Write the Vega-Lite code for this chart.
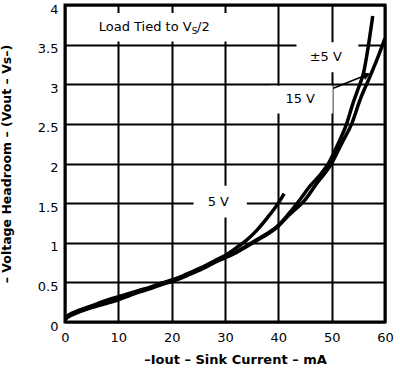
{
  "$schema": "https://vega.github.io/schema/vega-lite/v6.json",
  "width": 320,
  "height": 317,
  "autosize": "none",
  "padding": {"left": 65, "top": 5, "right": 15, "bottom": 49},
  "config": {
    "view": {"stroke": "black", "strokeWidth": 3},
    "font": "DejaVu Sans",
    "axis": {
      "grid": true, "gridColor": "black", "gridWidth": 2, "gridOpacity": 1,
      "ticks": false, "domain": false, "labelFlush": false, "labelOverlap": false,
      "labelFont": "DejaVu Sans", "labelFontSize": 13, "labelColor": "black",
      "titleFont": "DejaVu Sans", "titleFontWeight": "bold", "titleColor": "black"
    }
  },
  "datasets": {
    "curves": [
      {"series": "5 V", "x": 0, "y": 0.05}, {"series": "5 V", "x": 0.5, "y": 0.08}, {"series": "5 V", "x": 1, "y": 0.1}, {"series": "5 V", "x": 2, "y": 0.13},
      {"series": "5 V", "x": 4, "y": 0.18}, {"series": "5 V", "x": 6, "y": 0.23}, {"series": "5 V", "x": 8, "y": 0.28}, {"series": "5 V", "x": 10, "y": 0.32},
      {"series": "5 V", "x": 12, "y": 0.36}, {"series": "5 V", "x": 14, "y": 0.4}, {"series": "5 V", "x": 16, "y": 0.44}, {"series": "5 V", "x": 18, "y": 0.49},
      {"series": "5 V", "x": 20, "y": 0.53}, {"series": "5 V", "x": 22, "y": 0.58}, {"series": "5 V", "x": 24, "y": 0.64}, {"series": "5 V", "x": 26, "y": 0.7},
      {"series": "5 V", "x": 28, "y": 0.77}, {"series": "5 V", "x": 30, "y": 0.84}, {"series": "5 V", "x": 32, "y": 0.93}, {"series": "5 V", "x": 34, "y": 1.03},
      {"series": "5 V", "x": 36, "y": 1.16}, {"series": "5 V", "x": 38, "y": 1.32}, {"series": "5 V", "x": 40, "y": 1.5}, {"series": "5 V", "x": 41.1, "y": 1.62},

      {"series": "±5 V", "x": 0, "y": 0.04}, {"series": "±5 V", "x": 0.5, "y": 0.07}, {"series": "±5 V", "x": 1, "y": 0.09}, {"series": "±5 V", "x": 2, "y": 0.12},
      {"series": "±5 V", "x": 4, "y": 0.17}, {"series": "±5 V", "x": 6, "y": 0.21}, {"series": "±5 V", "x": 8, "y": 0.26}, {"series": "±5 V", "x": 10, "y": 0.3},
      {"series": "±5 V", "x": 12, "y": 0.34}, {"series": "±5 V", "x": 14, "y": 0.39}, {"series": "±5 V", "x": 16, "y": 0.43}, {"series": "±5 V", "x": 18, "y": 0.48},
      {"series": "±5 V", "x": 20, "y": 0.52}, {"series": "±5 V", "x": 22, "y": 0.57}, {"series": "±5 V", "x": 24, "y": 0.63}, {"series": "±5 V", "x": 26, "y": 0.69},
      {"series": "±5 V", "x": 28, "y": 0.76}, {"series": "±5 V", "x": 30, "y": 0.82}, {"series": "±5 V", "x": 32, "y": 0.88}, {"series": "±5 V", "x": 34, "y": 0.96},
      {"series": "±5 V", "x": 36, "y": 1.04}, {"series": "±5 V", "x": 38, "y": 1.12}, {"series": "±5 V", "x": 40, "y": 1.22}, {"series": "±5 V", "x": 42, "y": 1.37},
      {"series": "±5 V", "x": 44, "y": 1.54}, {"series": "±5 V", "x": 46, "y": 1.72}, {"series": "±5 V", "x": 48, "y": 1.87}, {"series": "±5 V", "x": 49.4, "y": 2.0},
      {"series": "±5 V", "x": 51, "y": 2.22}, {"series": "±5 V", "x": 52.8, "y": 2.5}, {"series": "±5 V", "x": 54, "y": 2.76}, {"series": "±5 V", "x": 55, "y": 2.95},
      {"series": "±5 V", "x": 56, "y": 3.15}, {"series": "±5 V", "x": 56.8, "y": 3.45}, {"series": "±5 V", "x": 57.7, "y": 3.86},

      {"series": "15 V", "x": 0, "y": 0.03}, {"series": "15 V", "x": 0.5, "y": 0.06}, {"series": "15 V", "x": 1, "y": 0.08}, {"series": "15 V", "x": 2, "y": 0.11},
      {"series": "15 V", "x": 4, "y": 0.16}, {"series": "15 V", "x": 6, "y": 0.2}, {"series": "15 V", "x": 8, "y": 0.24}, {"series": "15 V", "x": 10, "y": 0.28},
      {"series": "15 V", "x": 12, "y": 0.33}, {"series": "15 V", "x": 14, "y": 0.38}, {"series": "15 V", "x": 16, "y": 0.42}, {"series": "15 V", "x": 18, "y": 0.47},
      {"series": "15 V", "x": 20, "y": 0.51}, {"series": "15 V", "x": 22, "y": 0.56}, {"series": "15 V", "x": 24, "y": 0.62}, {"series": "15 V", "x": 26, "y": 0.68},
      {"series": "15 V", "x": 28, "y": 0.75}, {"series": "15 V", "x": 30, "y": 0.81}, {"series": "15 V", "x": 32, "y": 0.87}, {"series": "15 V", "x": 34, "y": 0.95},
      {"series": "15 V", "x": 36, "y": 1.03}, {"series": "15 V", "x": 38, "y": 1.11}, {"series": "15 V", "x": 40, "y": 1.21}, {"series": "15 V", "x": 42, "y": 1.35},
      {"series": "15 V", "x": 45, "y": 1.54}, {"series": "15 V", "x": 47, "y": 1.73}, {"series": "15 V", "x": 50, "y": 2.0}, {"series": "15 V", "x": 52, "y": 2.27},
      {"series": "15 V", "x": 53.75, "y": 2.5}, {"series": "15 V", "x": 55.3, "y": 2.8}, {"series": "15 V", "x": 57.2, "y": 3.1}, {"series": "15 V", "x": 58.6, "y": 3.33},
      {"series": "15 V", "x": 60, "y": 3.58}
    ],
    "labels": [
      {"label": "5 V", "x": 28.75, "y": 1.51, "bx1": 24.1, "bx2": 34.1, "by1": 1.32, "by2": 1.72},
      {"label": "±5 V", "x": 48.9, "y": 3.34, "bx1": 43.4, "bx2": 55, "by1": 3.15, "by2": 3.53},
      {"label": "15 V", "x": 44.1, "y": 2.82, "bx1": 38.5, "bx2": 50.2, "by1": 2.63, "by2": 2.98},
      {"label": "", "x": 0, "y": 0, "bx1": 0.6, "bx2": 38, "by1": 3.54, "by2": 3.9}
    ],
    "title": [
      {"part": "main", "t": "Load Tied to V", "x": 23.75, "y": 3.72},
      {"part": "sub", "t": "S", "x": 23.75, "y": 3.67},
      {"part": "tail", "t": "/2", "x": 24.75, "y": 3.72}
    ],
    "arrow": [
      {"x": 50.3, "y": 2.95, "x2": 56.6, "y2": 3.12}
    ]
  },
  "encoding": {
    "x": {"type": "quantitative", "scale": {"domain": [0, 60], "nice": false, "zero": false},
          "axis": {"values": [0, 10, 20, 30, 40, 50, 60], "labelPadding": 9, "title": "–Iout – Sink Current – mA", "titleFontSize": 13, "titlePadding": 9, "titleX": 170}},
    "y": {"type": "quantitative", "scale": {"domain": [0, 4], "nice": false, "zero": false},
          "axis": {"values": [0, 0.5, 1, 1.5, 2, 2.5, 3, 3.5, 4], "format": "~g", "labelPadding": 7, "labelOffset": 4, "title": "– Voltage Headroom – (Vout – Vs–)", "titleFontSize": 12.5, "titlePadding": 24}}
  },
  "layer": [
    {
      "data": {"name": "labels"},
      "mark": {"type": "rect", "color": "white"},
      "encoding": {
        "x": {"field": "bx1"},
        "x2": {"field": "bx2"},
        "y": {"field": "by1"},
        "y2": {"field": "by2"}
      }
    },
    {
      "data": {"name": "curves"},
      "mark": {"type": "line", "color": "black", "strokeWidth": 3.5, "interpolate": "monotone"},
      "encoding": {
        "x": {"field": "x"},
        "y": {"field": "y"},
        "detail": {"field": "series"}
      }
    },
    {
      "data": {"name": "labels"},
      "mark": {"type": "text", "color": "black", "fontSize": 13, "font": "DejaVu Sans"},
      "encoding": {
        "x": {"field": "x"},
        "y": {"field": "y"},
        "text": {"field": "label"}
      }
    },
    {
      "data": {"name": "title"},
      "transform": [{"filter": "datum.part === 'main'"}],
      "mark": {"type": "text", "color": "black", "font": "DejaVu Sans", "fontSize": 13, "align": "right", "baseline": "middle"},
      "encoding": {"x": {"field": "x"}, "y": {"field": "y"}, "text": {"field": "t"}}
    },
    {
      "data": {"name": "title"},
      "transform": [{"filter": "datum.part === 'sub'"}],
      "mark": {"type": "text", "color": "black", "font": "DejaVu Sans", "fontSize": 9, "align": "left", "baseline": "middle"},
      "encoding": {"x": {"field": "x"}, "y": {"field": "y"}, "text": {"field": "t"}}
    },
    {
      "data": {"name": "title"},
      "transform": [{"filter": "datum.part === 'tail'"}],
      "mark": {"type": "text", "color": "black", "font": "DejaVu Sans", "fontSize": 13, "align": "left", "baseline": "middle"},
      "encoding": {"x": {"field": "x"}, "y": {"field": "y"}, "text": {"field": "t"}}
    },
    {
      "data": {"name": "arrow"},
      "mark": {"type": "rule", "color": "black", "strokeWidth": 1.5},
      "encoding": {
        "x": {"field": "x"},
        "y": {"field": "y"},
        "x2": {"field": "x2"},
        "y2": {"field": "y2"}
      }
    },
    {
      "data": {"name": "arrow"},
      "mark": {"type": "point", "shape": "triangle-right", "filled": true, "color": "black", "size": 70, "angle": -22, "opacity": 1},
      "encoding": {
        "x": {"field": "x2"},
        "y": {"field": "y2"}
      }
    }
  ]
}
